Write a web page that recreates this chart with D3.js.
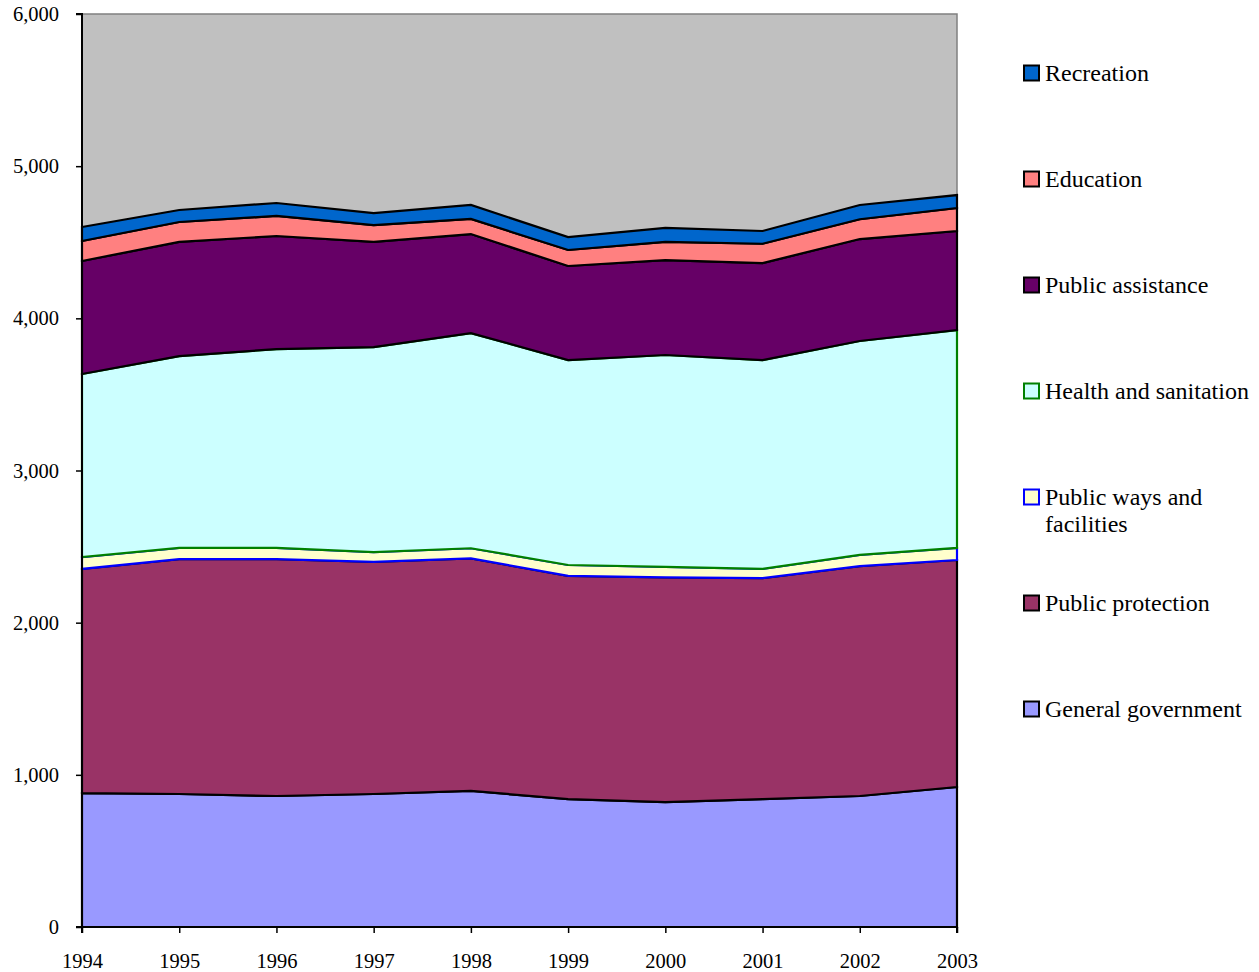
<!DOCTYPE html>
<html>
<head>
<meta charset="utf-8">
<script src="https://cdn.jsdelivr.net/npm/d3@7"></script>
<style>
  html, body { margin: 0; padding: 0; background: #ffffff; }
  svg { display: block; }
  text { font-family: "Liberation Serif", "Times New Roman", serif; fill: #000; }
</style>
</head>
<body>
<svg id="chart" width="1259" height="972"></svg>
<script>
// Years on the horizontal axis
const years = [1994, 1995, 1996, 1997, 1998, 1999, 2000, 2001, 2002, 2003];

// Spending by function (stacked from the bottom up)
const generalGovernment = [880, 874, 861, 874, 894, 841, 821, 841, 861, 920];
const publicProtection  = [1473, 1544, 1557, 1525, 1529, 1466, 1477, 1452, 1511, 1492];
const publicWays        = [78, 73, 73, 65, 66, 72, 68, 60, 73, 79];
const healthSanitation  = [1203, 1261, 1307, 1347, 1414, 1347, 1393, 1373, 1406, 1432];
const publicAssistance  = [743, 750, 743, 691, 651, 618, 624, 637, 670, 651];
const education         = [131, 131, 132, 111, 99, 105, 119, 127, 130, 151];
const recreation        = [92, 79, 85, 79, 92, 85, 92, 84, 94, 85];

// Value axis ticks
const yTicks = [0, 1000, 2000, 3000, 4000, 5000, 6000];

const series = [
  { name: "General government",        values: generalGovernment, fill: "#9999FF", stroke: "#000000" },
  { name: "Public protection",         values: publicProtection,  fill: "#993366", stroke: "#000000" },
  { name: "Public ways and facilities",values: publicWays,        fill: "#FFFFCC", stroke: "#0000FF" },
  { name: "Health and sanitation",     values: healthSanitation,  fill: "#CCFFFF", stroke: "#008000" },
  { name: "Public assistance",         values: publicAssistance,  fill: "#660066", stroke: "#000000" },
  { name: "Education",                 values: education,         fill: "#FF8080", stroke: "#000000" },
  { name: "Recreation",                values: recreation,        fill: "#0066CC", stroke: "#000000" }
];

const svg = d3.select("#chart");
const plot = { left: 82, right: 957, top: 14, bottom: 927 };

const x = d3.scaleLinear().domain([years[0], years[years.length - 1]]).range([plot.left, plot.right]);
const y = d3.scaleLinear().domain([0, 6000]).range([plot.bottom, plot.top]);

// Plot-area background
svg.append("rect")
  .attr("x", plot.left).attr("y", plot.top)
  .attr("width", plot.right - plot.left).attr("height", plot.bottom - plot.top)
  .attr("fill", "#C0C0C0").attr("stroke", "#808080").attr("stroke-width", 1.5);

// Stack the series
const rows = years.map((yr, i) => {
  const r = { year: yr };
  series.forEach(s => { r[s.name] = s.values[i]; });
  return r;
});
const stacked = d3.stack().keys(series.map(s => s.name))(rows);

const area = d3.area()
  .x(d => x(d.data.year))
  .y0(d => y(d[0]))
  .y1(d => y(d[1]));

svg.append("g").selectAll("path")
  .data(stacked)
  .join("path")
  .attr("d", area)
  .attr("fill", (d, i) => series[i].fill)
  .attr("stroke", (d, i) => series[i].stroke)
  .attr("stroke-width", 2.2)
  .attr("stroke-linejoin", "miter");

// Axes
const yAxis = d3.axisLeft(y).tickValues(yTicks).tickSize(6).tickPadding(17)
  .tickFormat(d3.format(","));
const xAxis = d3.axisBottom(x).tickValues(years).tickSize(6).tickPadding(20)
  .tickFormat(d3.format("d"));

const gy = svg.append("g").attr("transform", `translate(${plot.left},0)`).call(yAxis);
const gx = svg.append("g").attr("transform", `translate(0,${plot.bottom})`).call(xAxis);

[gy, gx].forEach(g => {
  g.select(".domain").attr("stroke", "#000").attr("stroke-width", 2);
  g.selectAll(".tick line").attr("stroke", "#000").attr("stroke-width", 1.5);
  g.selectAll(".tick text")
    .attr("font-family", '"Liberation Serif", "Times New Roman", serif')
    .attr("font-size", 20.5).attr("fill", "#000");
});
gy.select(".domain").attr("d", `M-6,${plot.top}H0V${plot.bottom}H-6`);
gx.select(".domain").attr("d", `M${plot.left},6V0H${plot.right}V6`);

// Legend (top series first)
const legendItems = series.slice().reverse();
const legendLines = {
  "Public ways and facilities": ["Public ways and", "facilities"]
};
const legend = svg.append("g");
legendItems.forEach((s, i) => {
  const cy = 73 + i * 106;
  const g = legend.append("g");
  g.append("rect")
    .attr("x", 1024).attr("y", cy - 7.5)
    .attr("width", 15).attr("height", 15)
    .attr("fill", s.fill)
    .attr("stroke", s.stroke === "#000000" ? "#000" : s.stroke)
    .attr("stroke-width", 2);
  const lines = legendLines[s.name] || [s.name];
  const t = g.append("text")
    .attr("x", 1045).attr("y", cy + 8)
    .attr("font-size", 24);
  lines.forEach((ln, j) => {
    t.append("tspan").attr("x", 1045).attr("dy", j === 0 ? 0 : 27).text(ln);
  });
});
</script>
</body>
</html>
